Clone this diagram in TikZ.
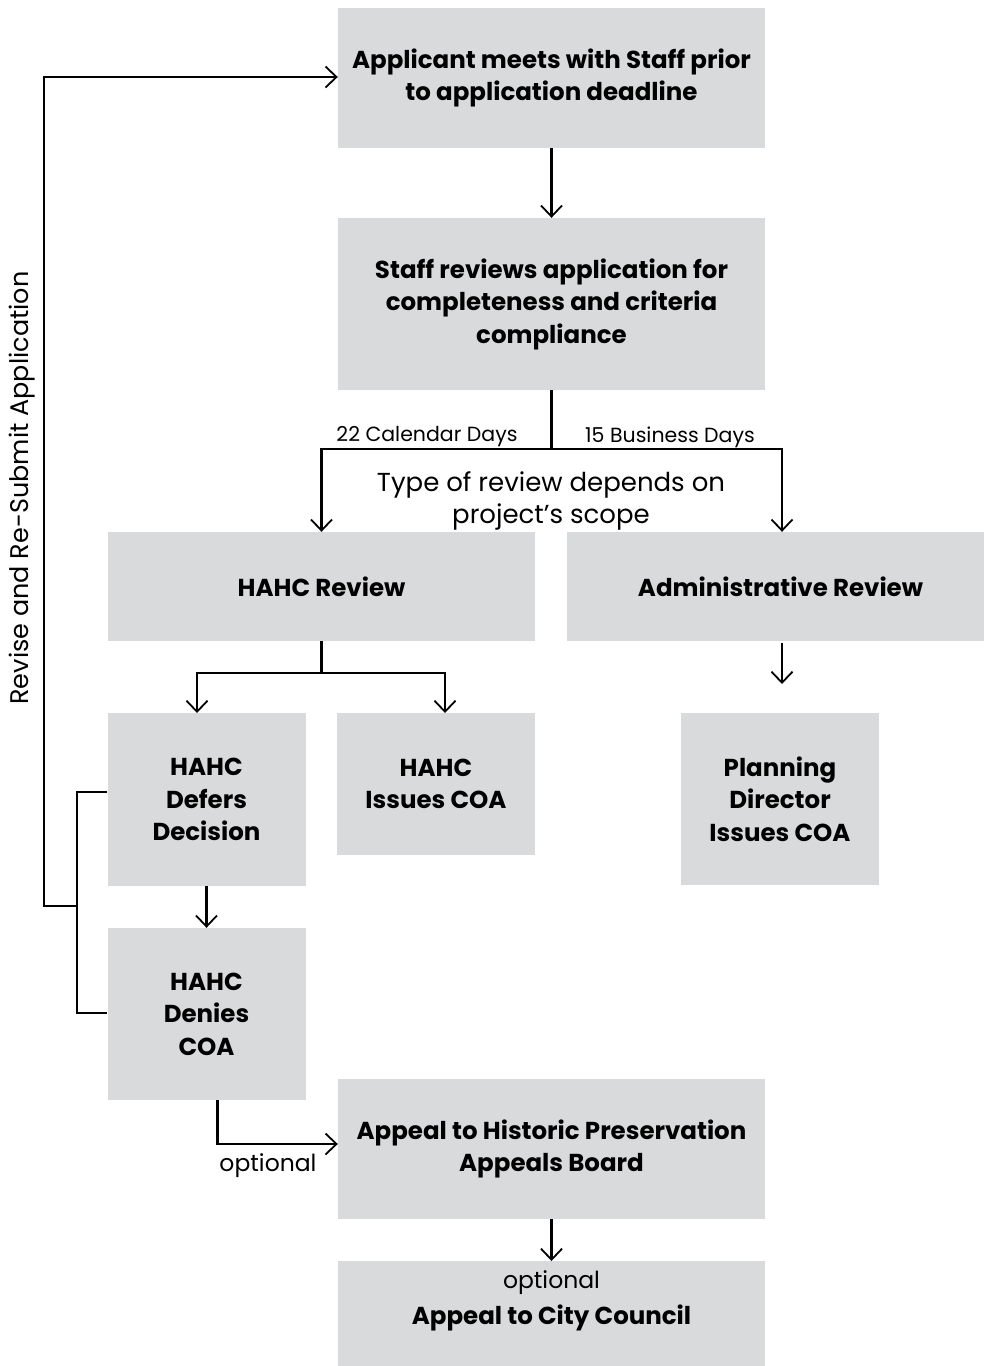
\documentclass[tikz,border=0pt]{standalone}
\usepackage{fontspec}
\setmainfont{Poppins}
\usetikzlibrary{arrows.meta}
\definecolor{boxgray}{HTML}{D9DADC}
\tikzset{
  box/.style={fill=boxgray, draw=none, inner sep=0pt, align=center,
    font=\fontsize{24.5}{32.5}\selectfont\bfseries},
  conn/.style={line width=2.2pt, black},
  arr/.style={conn, -{Straight Barb[length=11pt,width=21pt,line width=1.8pt]}},
  lbl/.style={inner sep=0pt, align=center},
}
\begin{document}
\begin{tikzpicture}[x=1pt,y=-1pt]
\useasboundingbox (0,0) rectangle (984,1366);
\clip (0,0) rectangle (984,1366);
% boxes
\node[box, minimum width=427, minimum height=140] (apply) at (551.5,78) {Applicant meets with Staff prior\\to application deadline};
\node[box, minimum width=427, minimum height=172] (staff) at (551.5,304) {Staff reviews application for\\completeness and criteria\\compliance};
\node[box, minimum width=427, minimum height=109] (hahcrev) at (321.5,586.5) {HAHC Review};
\node[box, minimum width=427, minimum height=109] (admin) at (780.5,586.5) {Administrative Review};
\node[box, minimum width=198, minimum height=173] (defers) at (206.5,799.5) {HAHC\\Defers\\Decision};
\node[box, minimum width=198, minimum height=142] (issues) at (436,784) {HAHC\\Issues COA};
\node[box, minimum width=198, minimum height=172] (planning) at (780,799) {Planning\\Director\\Issues COA};
\node[box, minimum width=198, minimum height=172] (denies) at (206.5,1014) {HAHC\\Denies\\COA};
\node[box, minimum width=427, minimum height=140] (appeal) at (551.5,1149) {Appeal to Historic Preservation\\Appeals Board};
\node[box, minimum width=427, minimum height=140, anchor=north] (city) at (551.5,1261) {};
\node[lbl, font=\fontsize{23.5}{32}\selectfont] (cityopt) at (551.5,1283) {optional};
\node[lbl, font=\fontsize{24.5}{32}\selectfont\bfseries] (citytxt) at (551.5,1318) {Appeal to City Council};
% labels
\node[lbl, font=\fontsize{20.5}{24}\selectfont] (cal) at (427,437) {22 Calendar Days};
\node[lbl, font=\fontsize{20.5}{24}\selectfont] (bus) at (670,437) {15 Business Days};
\node[lbl, font=\fontsize{26}{32}\selectfont] (type) at (551,501) {Type of review depends on\\project’s scope};
\node[lbl, font=\fontsize{23.5}{24}\selectfont] (opt) at (268,1166) {optional};
\node[lbl, font=\fontsize{25.5}{24}\selectfont, rotate=90] (revise) at (22,488) {Revise and Re-Submit Application};
% coordinates
\coordinate (split1) at (551.5,449);
\coordinate (split2) at (321.5,673);
\coordinate (dl) at (197,713);
\coordinate (il) at (445,713);
\coordinate (adm1) at (782,643);
\coordinate (adm2) at (782,684);
\coordinate (lb1) at (77,792);
\coordinate (lb2) at (77,1013);
\coordinate (lbm) at (77,906);
\coordinate (fb1) at (44,906);
\coordinate (fb2) at (44,77);
\coordinate (dn1) at (217.5,1100);
\coordinate (dn2) at (217.5,1144);
% connectors
\draw[arr] (apply.south) -- (staff.north);
\draw[conn] (staff.south) -- (split1);
\draw[arr] (split1) -| (hahcrev.north);
\draw[arr] (split1) -| ([xshift=1.5pt]admin.north);
\draw[conn] (hahcrev.south) -- (split2);
\draw[arr] (split2) -| (dl);
\draw[arr] (split2) -| (il);
\draw[arr] (adm1) -- (adm2);
\draw[arr] (defers.south) -- (denies.north);
\draw[conn] (defers.west |- lb1) -- (lb1) -- (lb2) -- (denies.west |- lb2);
\draw[arr] (lbm) -- (fb1) -- (fb2) -- (apply.west |- fb2);
\draw[arr] (dn1) -- (dn2) -- (appeal.west |- dn2);
\draw[arr] (appeal.south) -- (city.north);
\end{tikzpicture}
\end{document}
